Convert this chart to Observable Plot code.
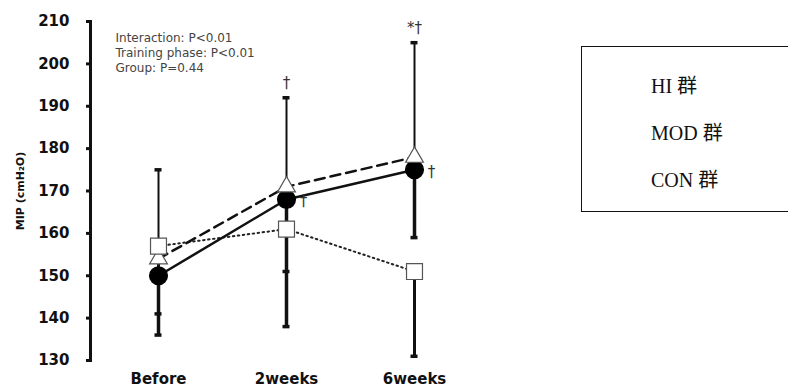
<!DOCTYPE html>
<html>
<head>
<meta charset="utf-8">
<script src="https://cdn.jsdelivr.net/npm/d3@7"></script>
<script src="https://cdn.jsdelivr.net/npm/@observablehq/plot@0.6"></script>
<style>
  html, body { margin: 0; padding: 0; background: #fff; overflow: hidden; }
  #wrap { position: relative; width: 788px; height: 390px; overflow: hidden; }
  #legend {
    position: absolute; left: 581px; top: 46px; width: 260px; height: 164px;
    border: 1.5px solid #111; background: #fff;
    font-family: "Liberation Serif", "Noto Sans CJK JP", serif; font-size: 20px; color: #111;
  }
  #legend div { position: absolute; left: 69px; }
</style>
</head>
<body>
<div id="wrap"></div>
<script>
// Measurement phases and groups
const phases = ["Before", "2weeks", "6weeks"];
const groups = ["HI 群", "MOD 群", "CON 群"];

// Group means of MIP (cmH2O)
const hiMean = [150, 168, 175];
const modMean = [154, 171, 178];
const conMean = [157, 161, 151];

// One-sided SD bars: HI and CON downward, MOD upward
const hiLow = [136, 138, 159];
const modHigh = [175, 192, 205];
const conLow = [141, 151, 131];

// Significance markers
const topMarks = [
  {phase: "2weeks", value: 192, text: "†"},
  {phase: "6weeks", value: 205, text: "*†"}
];
const sideMarks = [
  {phase: "2weeks", value: 168, text: "†"},
  {phase: "6weeks", value: 175, text: "†"}
];

const yTicks = [130, 140, 150, 160, 170, 180, 190, 200, 210];
const statsNote = ["Interaction: P<0.01", "Training phase: P<0.01", "Group: P=0.44"];

const rows = (means) => phases.map((p, i) => ({phase: p, value: means[i]}));
const hi = rows(hiMean), mod = rows(modMean), con = rows(conMean);
const bars = (means, ends) => phases.map((p, i) => ({phase: p, y1: means[i], y2: ends[i]}));
const hiBars = bars(hiMean, hiLow), modBars = bars(modMean, modHigh), conBars = bars(conMean, conLow);

const cap = (data, w) => Plot.ruleY(data, {x1: "phase", x2: "phase", y: "y2", stroke: "#111", strokeWidth: 3.5, insetLeft: -w, insetRight: -w});

const chart = Plot.plot({
  width: 788, height: 390,
  marginLeft: 90, marginRight: 306, marginTop: 21, marginBottom: 30,
  x: {type: "point", domain: phases, padding: 0.52},
  y: {domain: [130, 210]},
  style: {fontFamily: "DejaVu Sans", background: "white", color: "#111"},
  marks: [
    Plot.axisY({ticks: yTicks, tickSize: 4, tickPadding: 17, fontSize: 15, fontWeight: "bold", strokeWidth: 3, label: null}),
    Plot.axisX({tickSize: 0, tickPadding: 13, fontSize: 15, fontWeight: "bold", label: null}),
    Plot.frame({anchor: "left", strokeWidth: 3, stroke: "#111"}),
    Plot.text([statsNote.join("\n")], {frameAnchor: "top-left", dx: 25, dy: 10, lineAnchor: "top", fontSize: 12, lineHeight: 1.25, fill: "#444"}),
    Plot.text(["MIP (cmH₂O)"], {frameAnchor: "left", textAnchor: "middle", rotate: -90, dx: -70, fontSize: 11, fontWeight: "bold", fill: "#111"}),
    // error bars
    Plot.ruleX(hiBars, {x: "phase", y1: "y1", y2: "y2", stroke: "#111", strokeWidth: 3.5}),
    Plot.ruleX(conBars, {x: "phase", y1: "y1", y2: "y2", stroke: "#111", strokeWidth: 3}),
    Plot.ruleX(modBars, {x: "phase", y1: "y1", y2: "y2", stroke: "#111", strokeWidth: 2}),
    cap(hiBars, 3.5), cap(conBars, 3.5), cap(modBars, 3.5),
    // group lines
    Plot.line(con, {x: "phase", y: "value", stroke: "#222", strokeWidth: 2, strokeDasharray: "1.5,3.5", strokeLinecap: "round"}),
    Plot.line(mod, {x: "phase", y: "value", stroke: "#111", strokeWidth: 2.5, strokeDasharray: "10,6"}),
    Plot.line(hi, {x: "phase", y: "value", stroke: "#111", strokeWidth: 2.5}),
    // group markers
    Plot.dot(hi, {x: "phase", y: "value", r: 8.8, fill: "#000", stroke: "#000"}),
    Plot.dot(mod, {x: "phase", y: "value", symbol: "triangle", r: 6.6, fill: "#fff", stroke: "#555", strokeWidth: 1.2}),
    Plot.dot(con, {x: "phase", y: "value", symbol: "square", r: 9, fill: "#fff", stroke: "#555", strokeWidth: 1.2}),
    // significance markers
    Plot.text(topMarks, {x: "phase", y: "value", text: "text", dy: -15, fontSize: 15, fill: "#333"}),
    Plot.text(sideMarks, {x: "phase", y: "value", text: "text", dx: 17, dy: 2, fontSize: 15, fill: "#333"})
  ]
});

const wrap = document.getElementById("wrap");
wrap.appendChild(chart);

// Group key box
const legend = document.createElement("div");
legend.id = "legend";
groups.forEach((g, i) => {
  const item = document.createElement("div");
  item.textContent = g;
  item.style.top = (23 + i * 47) + "px";
  legend.appendChild(item);
});
wrap.appendChild(legend);
</script>
</body>
</html>
